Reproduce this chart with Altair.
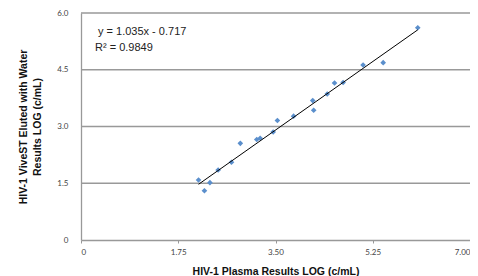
import altair as alt
import pandas as pd

plasma_log = [2.115, 2.221, 2.320, 2.468, 2.708, 2.867, 3.163, 3.224, 3.458, 3.534,
              3.825, 4.170, 4.187, 4.431, 4.562, 4.717, 5.076, 5.438, 6.060]
vivest_log = [1.586, 1.303, 1.515, 1.851, 2.054, 2.556, 2.657, 2.689, 2.855, 3.159,
              3.273, 3.684, 3.429, 3.859, 4.150, 4.164, 4.626, 4.687, 5.609]

slope = 1.035
intercept = -0.717
x_ticks = [0, 1.75, 3.5, 5.25, 7.0]
y_ticks = [0, 1.5, 3.0, 4.5, 6.0]

df = pd.DataFrame({"x": plasma_log, "y": vivest_log})
xs = [min(plasma_log), max(plasma_log)]
trend = pd.DataFrame({"x": xs, "y": [slope * v + intercept for v in xs]})
grid_df = pd.DataFrame({"y": y_ticks[1:]})

W, H = 389, 227
label_font = "Lato"

xscale = alt.Scale(domain=[0, 7], nice=False, zero=True)
yscale = alt.Scale(domain=[0, 6], nice=False, zero=True)

x_axis = alt.Axis(
    values=x_ticks,
    labelExpr="datum.value == 0 ? '0' : (datum.value == 7 ? '7.00' : format(datum.value, '.2f'))",
    grid=False, domainColor="#999999", domainWidth=1.3, tickColor="#999999", tickSize=3,
    labelFont=label_font, labelFontSize=8, labelColor="#444", labelPadding=5,
    title="HIV-1 Plasma Results LOG (c/mL)", titleFont="Liberation Sans",
    titleFontSize=10.5, titleFontWeight="bold", titleColor="#111", titlePadding=10,
)
y_axis = alt.Axis(
    values=y_ticks,
    labelExpr="datum.value == 0 ? '0' : format(datum.value, '.1f')",
    grid=False, domainColor="#999999", domainWidth=1.3, ticks=False,
    labelFont=label_font, labelFontSize=8, labelColor="#444", labelPadding=13,
    title=["HIV-1 ViveST Eluted with Water", "Results LOG (c/mL)"],
    titleFont="Liberation Sans", titleFontSize=10.5, titleFontWeight="bold",
    titleColor="#111", titlePadding=14, titleLineHeight=14,
)

gridlines = alt.Chart(grid_df).mark_rule(color="#999999", strokeWidth=1.5).encode(
    y=alt.Y("y:Q", scale=yscale, axis=y_axis),
    x=alt.value(0),
    x2=alt.value(W + 10),
)

points = alt.Chart(df).mark_point(
    shape="diamond", filled=True, size=32, color="#5b8fcc", opacity=1
).encode(
    x=alt.X("x:Q", scale=xscale, axis=x_axis),
    y=alt.Y("y:Q", scale=yscale, axis=y_axis),
)

line = alt.Chart(trend).mark_line(color="#000", strokeWidth=1).encode(
    x=alt.X("x:Q", scale=xscale, axis=x_axis),
    y=alt.Y("y:Q", scale=yscale, axis=y_axis),
)

eq = alt.Chart(pd.DataFrame({"t": ["y = 1.035x - 0.717"]})).mark_text(
    align="left", baseline="middle", font="Liberation Sans", fontSize=11, color="#222"
).encode(text="t:N", x=alt.value(17), y=alt.value(19))

r2 = alt.Chart(pd.DataFrame({"t": ["R² = 0.9849"]})).mark_text(
    align="left", baseline="middle", font="Liberation Sans", fontSize=11, color="#222"
).encode(text="t:N", x=alt.value(14), y=alt.value(35))

chart = alt.layer(gridlines, points, line, eq, r2).properties(
    width=W, height=H,
    autosize=alt.AutoSizeParams(type="none"),
    padding={"left": 73, "top": 5, "right": 0, "bottom": 40},
).configure_view(stroke=None)

chart.save("out.html", embed_options={"renderer": "svg", "actions": False})
